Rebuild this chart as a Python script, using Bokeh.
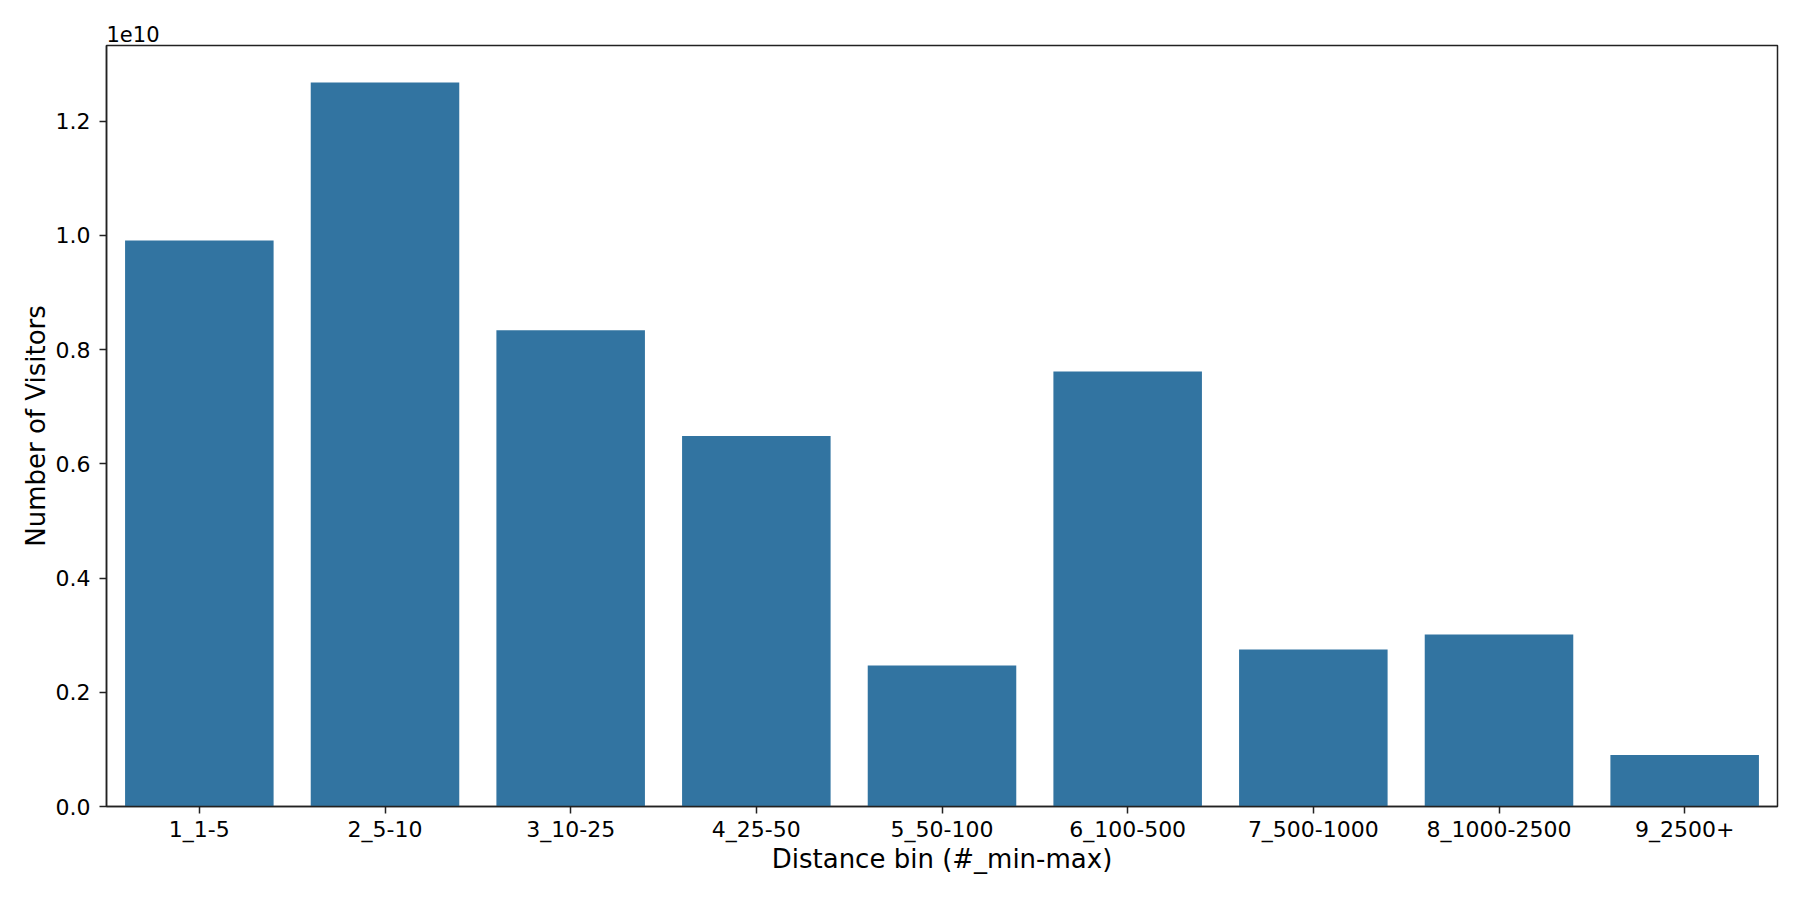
from bokeh.plotting import figure
from bokeh.models import FactorRange, Range1d, FixedTicker, CustomJSTickFormatter
from bokeh.embed import file_html
from bokeh.resources import INLINE

# data
bins = ["1_1-5", "2_5-10", "3_10-25", "4_25-50", "5_50-100",
        "6_100-500", "7_500-1000", "8_1000-2500", "9_2500+"]
visitors = [9.91e9, 1.268e10, 8.34e9, 6.49e9, 2.47e9,
            7.62e9, 2.75e9, 3.01e9, 0.90e9]
y_ticks = [0, 2e9, 4e9, 6e9, 8e9, 1.0e10, 1.2e10]

FONT = "DejaVu Sans"
EDGE = "#222222"

p = figure(x_range=FactorRange(*bins), y_range=Range1d(0, 1.3327e10),
           frame_width=1671, frame_height=761,
           min_border_left=106, min_border_top=45, min_border_right=7, min_border_bottom=78,
           output_backend="svg", toolbar_location=None, title="1e10")

p.vbar(x=bins, top=visitors, width=0.8, color="#3274a1", line_color=None)

p.title.text_font = FONT
p.title.text_font_size = "21px"
p.title.text_font_style = "normal"
p.title.text_color = "black"
p.title.align = "left"
p.title.offset = 0
p.title.standoff = 8

p.xgrid.grid_line_color = None
p.ygrid.grid_line_color = None
p.outline_line_color = EDGE
p.outline_line_width = 1.5
p.background_fill_color = "white"
p.border_fill_color = "white"

p.yaxis.ticker = FixedTicker(ticks=y_ticks)
p.yaxis.formatter = CustomJSTickFormatter(code="return (tick/1e10).toFixed(1);")
p.yaxis.minor_tick_line_color = None
p.xaxis.axis_label = "Distance bin (#_min-max)"
p.yaxis.axis_label = "Number of Visitors"

for ax in (p.xaxis, p.yaxis):
    ax.axis_line_color = EDGE
    ax.axis_line_width = 1.5
    ax.major_tick_line_color = EDGE
    ax.major_tick_line_width = 1.5
    ax.major_tick_out = 7
    ax.major_tick_in = 0
    ax.major_label_text_font = FONT
    ax.major_label_text_font_size = "22px"
    ax.major_label_text_color = "black"
    ax.axis_label_text_font = FONT
    ax.axis_label_text_font_size = "26px"
    ax.axis_label_text_font_style = "normal"
    ax.axis_label_text_color = "black"

p.xaxis.major_label_standoff = 3
p.xaxis.axis_label_standoff = -1
p.yaxis.major_label_standoff = 9
p.yaxis.axis_label_standoff = 2

open("out.html", "w").write(file_html(p, INLINE))
